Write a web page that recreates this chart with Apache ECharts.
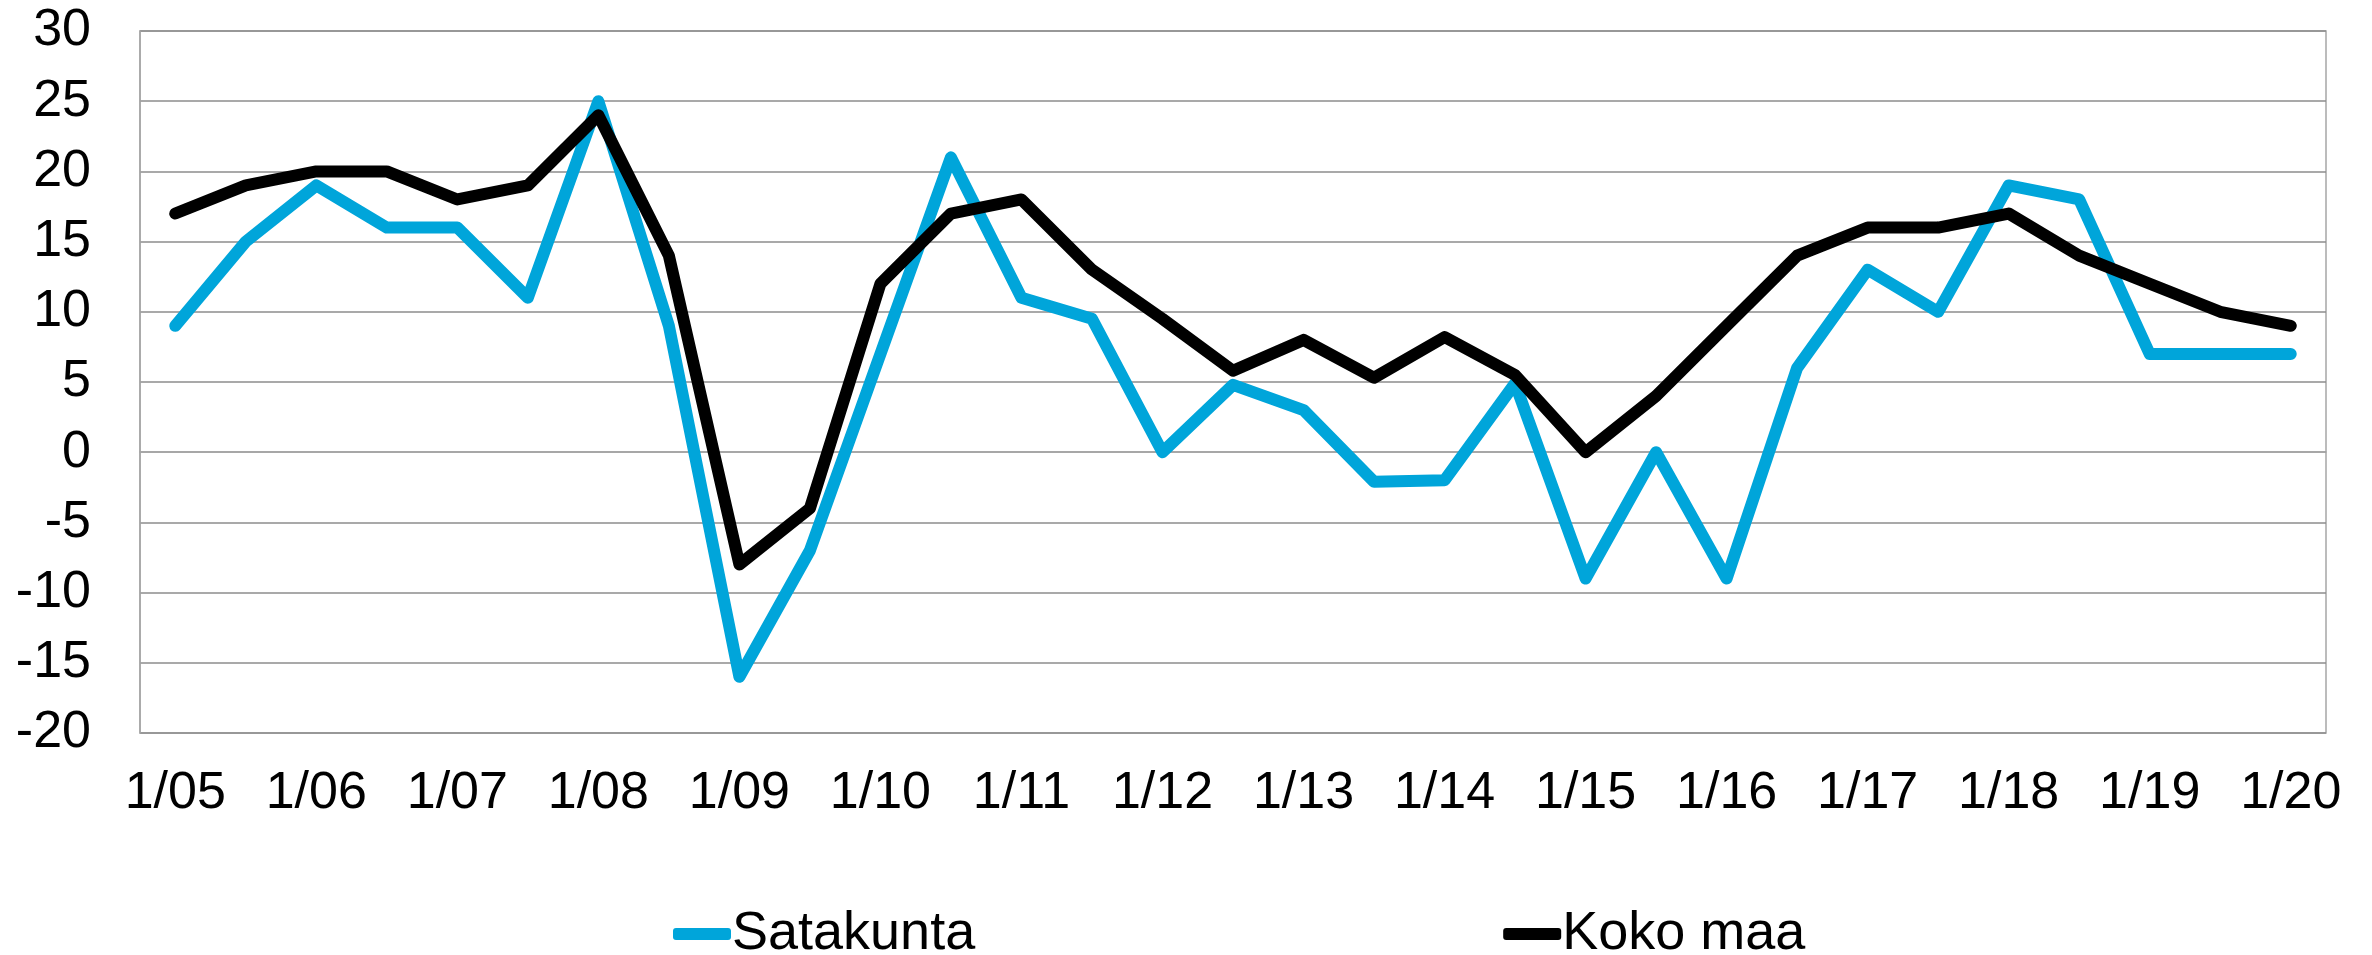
<!DOCTYPE html>
<html>
<head>
<meta charset="utf-8">
<script src="https://cdn.jsdelivr.net/npm/echarts@6/dist/echarts.min.js"></script>
<style>
  html, body { margin: 0; padding: 0; background: #fff; }
  #chart { width: 2372px; height: 955px; }
</style>
</head>
<body>
<div id="chart"></div>
<script>
// half-year points, only the January ones get a label
const categories = [
  '1/05', '7/05', '1/06', '7/06', '1/07', '7/07', '1/08', '7/08',
  '1/09', '7/09', '1/10', '7/10', '1/11', '7/11', '1/12', '7/12',
  '1/13', '7/13', '1/14', '7/14', '1/15', '7/15', '1/16', '7/16',
  '1/17', '7/17', '1/18', '7/18', '1/19', '7/19', '1/20'
]
const satakunta = [9, 15, 19, 16, 16, 11, 25, 9, -16, -7, 7, 21, 11, 9.5, 0, 4.8,
  3, -2.1, -2, 4.9, -9, 0, -9, 6, 13, 10, 19, 18, 7, 7, 7]
const kokoMaa = [17, 19, 20, 20, 18, 19, 24, 14, -8, -4, 12, 17, 18, 13, 9.5, 5.8,
  8, 5.3, 8.2, 5.5, 0, 4, 9, 14, 16, 16, 17, 14, 12, 10, 9]
const yTicks = { min: -20, max: 30, step: 5 }

const font = 'Liberation Sans, Arial, sans-serif'
const chart = echarts.init(document.getElementById('chart'))

const option = {
  animation: false,
  backgroundColor: '#fff',
  grid: {
    left: 140,
    right: 46,
    top: 31,
    bottom: 222,
    show: true,
    borderColor: '#a6a6a6',
    borderWidth: 1.5
  },
  legend: {
    top: 902,
    left: 668,
    itemGap: 528,
    itemWidth: 58,
    itemHeight: 12,
    icon: 'roundRect',
    textStyle: { fontSize: 54, color: '#000', fontFamily: font, padding: [0, 0, 0, -4] },
    data: ['Satakunta', 'Koko maa']
  },
  xAxis: {
    type: 'category',
    data: categories,
    boundaryGap: true,
    axisLine: { lineStyle: { color: '#a6a6a6', width: 1.5 } },
    axisTick: { show: false },
    axisLabel: {
      interval: 1,
      fontSize: 52,
      color: '#000',
      fontFamily: font,
      margin: 35
    },
    splitLine: { show: false }
  },
  yAxis: {
    type: 'value',
    min: yTicks.min,
    max: yTicks.max,
    interval: yTicks.step,
    axisLine: { show: true, lineStyle: { color: '#a6a6a6', width: 1.5 } },
    axisTick: { show: false },
    axisLabel: {
      fontSize: 52,
      color: '#000',
      fontFamily: font,
      margin: 49
    },
    splitLine: { lineStyle: { color: '#8c8c8c', width: 1.5 } }
  },
  series: [
    {
      name: 'Satakunta',
      type: 'line',
      data: satakunta,
      symbol: 'none',
      color: '#00a5da',
      lineStyle: { width: 12, cap: 'round', join: 'round' }
    },
    {
      name: 'Koko maa',
      type: 'line',
      data: kokoMaa,
      symbol: 'none',
      color: '#000000',
      lineStyle: { width: 12, cap: 'round', join: 'round' }
    }
  ]
}

chart.setOption(option)
window.addEventListener('resize', () => chart.resize(), false)
</script>
</body>
</html>
